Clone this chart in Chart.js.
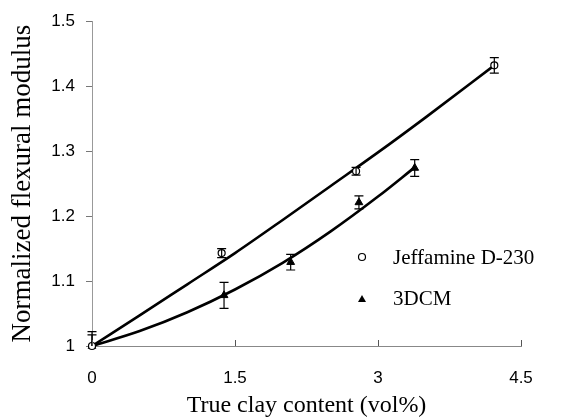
<!DOCTYPE html>
<html>
<head>
<meta charset="utf-8">
<script src="https://cdn.jsdelivr.net/npm/chart.js@4"></script>
<style>
  html, body { margin: 0; padding: 0; background: #fff; }
  #wrap { width: 561px; height: 418px; }
</style>
</head>
<body>
<div id="wrap"><canvas id="chart"></canvas></div>
<script>
// measured points (clay vol%, normalized modulus, +/- error)
const jeffX = [0, 1.36, 2.77, 4.22];
const jeffY = [1.0, 1.143, 1.269, 1.432];
const jeffErr = [0.022, 0.007, 0.006, 0.012];

const dcmX = [0, 1.385, 2.084, 2.8, 3.385];
const dcmY = [1.0, 1.078, 1.129, 1.221, 1.274];
const dcmErr = [0.017, 0.02, 0.012, 0.01, 0.013];

// fitted curves
const jeffFitX = [0, 0.5, 1.0, 1.5, 2.0, 2.5, 3.0, 3.5, 4.22];
const jeffFitY = [1.0, 1.047, 1.095, 1.143, 1.194, 1.246, 1.298, 1.352, 1.432];
const dcmFitX = [0, 0.5, 1.0, 1.5, 2.0, 2.5, 3.0, 3.385];
const dcmFitY = [1.0, 1.023, 1.052, 1.087, 1.128, 1.176, 1.23, 1.275];

const xTicks = [0, 1.5, 3, 4.5];
const xTickLabels = ["0", "1.5", "3", "4.5"];
const yTicks = [1, 1.1, 1.2, 1.3, 1.4, 1.5];
const yTickLabels = ["1", "1.1", "1.2", "1.3", "1.4", "1.5"];

const legendLabels = ["Jeffamine D-230", "3DCM"];

function pairs(xs, ys) {
  return xs.map((x, i) => ({ x, y: ys[i] }));
}

const serif = '"Liberation Serif", "Times New Roman", serif';
const sans = '"Liberation Sans", Arial, sans-serif';

// error bars with small caps, cut at the axes
const errorBars = {
  id: "errorBars",
  afterDatasetsDraw(chart) {
    const { ctx, scales, chartArea } = chart;
    ctx.save();
    ctx.beginPath();
    ctx.rect(chartArea.left - 6, chartArea.top, chartArea.width + 12, chartArea.height);
    ctx.clip();
    ctx.strokeStyle = "#000";
    ctx.lineWidth = 1.2;
    chart.data.datasets.forEach((ds) => {
      if (!ds.errors) return;
      ds.data.forEach((p, i) => {
        const px = scales.x.getPixelForValue(p.x);
        const top = scales.y.getPixelForValue(p.y + ds.errors[i]);
        const bot = scales.y.getPixelForValue(p.y - ds.errors[i]);
        ctx.beginPath();
        ctx.moveTo(px, top);
        ctx.lineTo(px, bot);
        ctx.moveTo(px - 4.5, top);
        ctx.lineTo(px + 4.5, top);
        ctx.moveTo(px - 4.5, bot);
        ctx.lineTo(px + 4.5, bot);
        ctx.stroke();
      });
    });
    ctx.restore();
  },
};

// x tick marks point up into the plot
const innerTicks = {
  id: "innerTicks",
  afterDraw(chart) {
    const { ctx, scales } = chart;
    const b = scales.y.bottom;
    ctx.save();
    ctx.strokeStyle = "#555";
    ctx.lineWidth = 1;
    scales.x.ticks.forEach((t) => {
      const px = Math.round(scales.x.getPixelForValue(t.value)) + 0.5;
      ctx.beginPath();
      ctx.moveTo(px, b);
      ctx.lineTo(px, b - 6);
      ctx.stroke();
    });
    ctx.restore();
  },
};

// legend inside the plot
const insideLegend = {
  id: "insideLegend",
  afterDraw(chart) {
    const ctx = chart.ctx;
    ctx.save();
    ctx.fillStyle = "#000";
    ctx.strokeStyle = "#000";
    ctx.lineWidth = 1.2;
    ctx.beginPath();
    ctx.arc(362, 257, 3.5, 0, Math.PI * 2);
    ctx.stroke();
    ctx.beginPath();
    ctx.moveTo(362, 295);
    ctx.lineTo(366, 302);
    ctx.lineTo(358, 302);
    ctx.closePath();
    ctx.fill();
    ctx.font = "21px " + serif;
    ctx.textBaseline = "middle";
    ctx.fillText(legendLabels[0], 393, 258);
    ctx.fillText(legendLabels[1], 393, 299);
    ctx.restore();
  },
};

new Chart(document.getElementById("chart"), {
  type: "scatter",
  data: {
    datasets: [
      {
        label: legendLabels[0],
        data: pairs(jeffX, jeffY),
        errors: jeffErr,
        pointStyle: "circle",
        pointRadius: 3.5,
        backgroundColor: "#fff",
        borderColor: "#000",
        borderWidth: 1.2,
        clip: false,
        order: 0,
      },
      {
        label: legendLabels[1],
        data: pairs(dcmX, dcmY),
        errors: dcmErr,
        pointStyle: "triangle",
        pointRadius: 4.5,
        backgroundColor: "#000",
        borderColor: "#000",
        borderWidth: 1,
        clip: false,
        order: 0,
      },
      {
        label: "fit1",
        data: pairs(jeffFitX, jeffFitY),
        showLine: true,
        pointRadius: 0,
        borderColor: "#000",
        borderWidth: 2.6,
        cubicInterpolationMode: "monotone",
        clip: false,
        order: 1,
      },
      {
        label: "fit2",
        data: pairs(dcmFitX, dcmFitY),
        showLine: true,
        pointRadius: 0,
        borderColor: "#000",
        borderWidth: 2.6,
        cubicInterpolationMode: "monotone",
        clip: false,
        order: 1,
      },
    ],
  },
  options: {
    responsive: true,
    maintainAspectRatio: false,
    animation: false,
    layout: { padding: { top: 19, right: 40, bottom: 0, left: 0 } },
    plugins: {
      legend: { display: false },
      tooltip: { enabled: false },
    },
    scales: {
      x: {
        type: "linear",
        min: 0,
        max: 4.5,
        afterBuildTicks: (s) => {
          s.ticks = xTicks.map((v) => ({ value: v }));
        },
        afterFit: (s) => {
          s.height = 72;
        },
        grid: { display: false, drawTicks: false },
        border: { display: true, color: "#888", width: 1 },
        ticks: {
          color: "#000",
          padding: 22,
          maxRotation: 0,
          font: { family: sans, size: 17 },
          callback: (v, i) => xTickLabels[i],
        },
        title: {
          display: true,
          text: "True clay content (vol%)",
          color: "#000",
          font: { family: serif, size: 24, lineHeight: 1 },
          padding: { top: 0, bottom: 0 },
        },
      },
      y: {
        type: "linear",
        min: 1,
        max: 1.5,
        afterBuildTicks: (s) => {
          s.ticks = yTicks.map((v) => ({ value: v }));
        },
        afterFit: (s) => {
          s.width = 92;
        },
        grid: {
          drawOnChartArea: false,
          drawTicks: true,
          tickLength: 6,
          color: "#777",
        },
        border: { display: true, color: "#999", width: 1 },
        ticks: {
          color: "#000",
          padding: 11,
          font: { family: sans, size: 17 },
          callback: (v, i) => yTickLabels[i],
        },
        title: {
          display: true,
          text: "Normalized flexural modulus",
          color: "#000",
          font: { family: serif, size: 27, lineHeight: 1 },
          padding: { top: 9, bottom: 0 },
        },
      },
    },
  },
  plugins: [errorBars, innerTicks, insideLegend],
});
</script>
</body>
</html>
